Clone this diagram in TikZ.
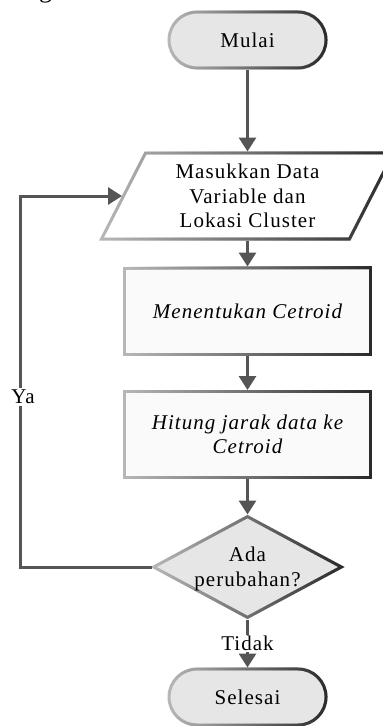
\documentclass[tikz,border=0pt]{standalone}
\usepackage{fontspec}
\setmainfont{Liberation Serif}[LetterSpace=5]
\usetikzlibrary{shapes.geometric,arrows.meta,fadings,calc,backgrounds}

\definecolor{arrowgray}{HTML}{555555}
\definecolor{edgelight}{HTML}{B8B8B8}
\definecolor{edgedark}{HTML}{2A2A2A}
\definecolor{termfill}{HTML}{E6E6E6}
\definecolor{boxfill}{HTML}{FAFAFA}

% border shading: light on the west side, dark on the east side
\tikzfading[name=darkeast, left color=transparent!100, right color=transparent!0]

\begin{document}
\begin{tikzpicture}[x=1pt, y=-1pt,
  every node/.style={font=\fontsize{21}{24.5}\selectfont},
  edge3d/.style={draw=edgelight, line width=3pt,
    postaction={draw=edgedark, line width=3pt, path fading=darkeast}},
  terminal/.style={rectangle, rounded corners=28pt, minimum width=157,
    minimum height=56, inner sep=0pt, fill=termfill, edge3d},
  iotext/.style={rectangle, minimum width=200, minimum height=86,
    inner sep=0pt, outer sep=1.5pt, align=center},
  process/.style={rectangle, minimum width=246, minimum height=86,
    inner sep=0pt, fill=boxfill, edge3d, align=center},
  decision/.style={diamond, aspect=1.85, minimum width=189, minimum height=102,
    inner sep=0pt, fill=termfill, edge3d},
  flow/.style={draw=arrowgray, line width=3pt,
    -{Triangle[width=17pt, length=14pt]}},
  tag/.style={fill=white, inner sep=1pt}
]
\useasboundingbox (0,0) rectangle (383,726);

% tail of the heading above the chart
\node[font=\fontsize{26}{30}\selectfont, anchor=base, inner sep=0pt] (headfrag) at (45.5,-2.7) {g};

\node[terminal] (start) at (247.5,40) {Mulai};
\node[iotext] (input) at (247.5,196) {Masukkan Data\\Variable dan\\Lokasi Cluster};
% data (parallelogram) outline behind the input text
\begin{scope}[on background layer]
  \draw[edge3d, fill=white]
    ($(input.center)+(-146,43)$) -- ($(input.center)+(-102,-43)$) --
    ($(input.center)+(146,-43)$) -- ($(input.center)+(102,43)$) -- cycle;
\end{scope}
\coordinate (inwest) at ($(input.center)+(-125.5,0)$);

\node[process] (cent) at (247.5,311) {\itshape Menentukan Cetroid};
\node[process] (dist) at (247.5,434.5) {\itshape Hitung jarak data ke\\\itshape Cetroid};
\node[decision] (dec) at (247.5,567) {};
\node[align=center, inner sep=0pt] (dectext) at (247.5,569) {Ada\\perubahan?};
\node[terminal] (stop) at (247.5,697) {Selesai};

\draw[flow] (start.south) -- (input.north);
\draw[flow] (input.south) -- (cent.north);
\draw[flow] (cent.south) -- (dist.north);
\draw[flow] (dist.south) -- (dec.north);
\draw[flow] (dec.south) -- node[tag] (no) {Tidak} (stop.north);
\draw[flow] (dec.west) -- ++(-131,0) |- (inwest);
\node[tag, inner sep=2pt] (yes) at (23,397) {Ya};
\end{tikzpicture}
\end{document}
